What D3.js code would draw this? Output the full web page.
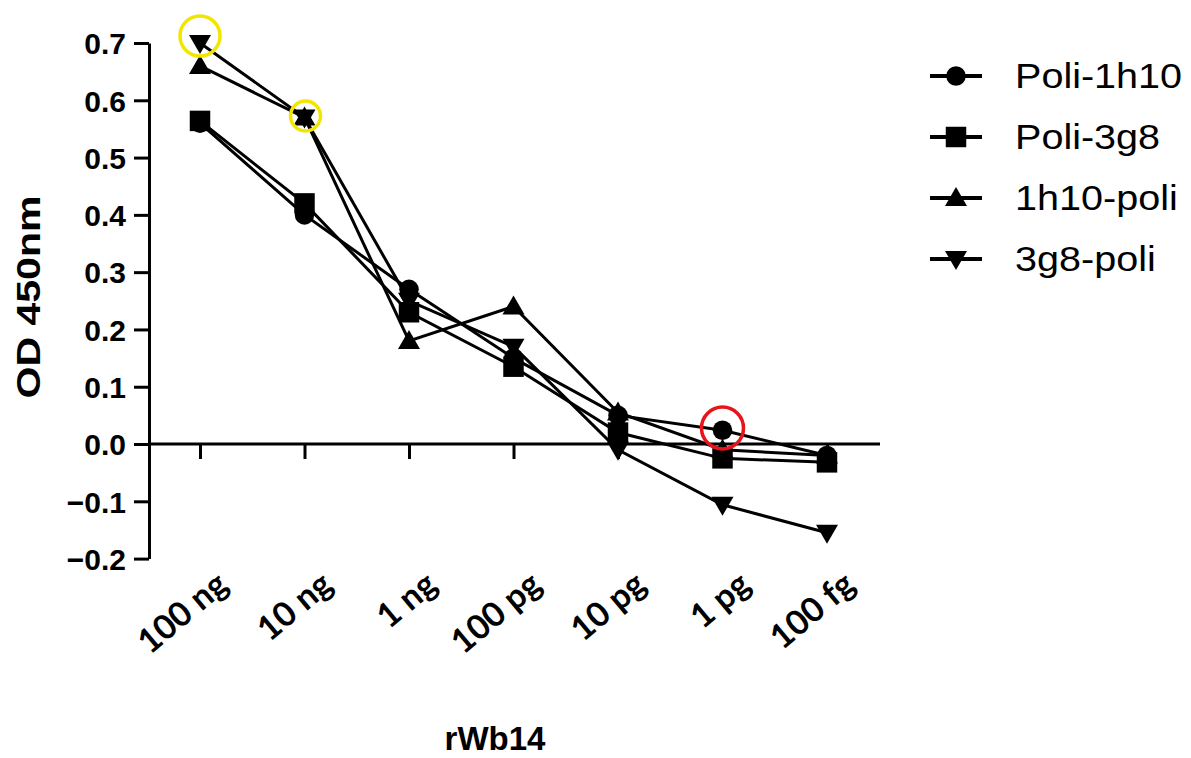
<!DOCTYPE html>
<html><head><meta charset="utf-8">
<script src="https://cdn.jsdelivr.net/npm/d3@7"></script>
<style>body{margin:0;background:#fff}svg{display:block}</style>
</head><body>
<svg id="c" width="1191" height="758"></svg>
<script>
const categories = ["100 ng","10 ng","1 ng","100 pg","10 pg","1 pg","100 fg"];
const poli1h10 = [0.56, 0.40, 0.27, 0.15, 0.05, 0.024, -0.02];
const poli3g8  = [0.564, 0.42, 0.23, 0.135, 0.02, -0.025, -0.032];
const h10poli  = [0.66, 0.57, 0.18, 0.24, 0.055, -0.01, -0.02];
const g8poli   = [0.70, 0.57, 0.25, 0.17, -0.01, -0.106, -0.155];
const seriesNames = ["Poli-1h10","Poli-3g8","1h10-poli","3g8-poli"];
const yTicks = [-0.2,-0.1,0.0,0.1,0.2,0.3,0.4,0.5,0.6,0.7];

const series = [
  {name: seriesNames[0], values: poli1h10, sym: "circle"},
  {name: seriesNames[1], values: poli3g8, sym: "square"},
  {name: seriesNames[2], values: h10poli, sym: "tri"},
  {name: seriesNames[3], values: g8poli, sym: "itri"}
];

const svg = d3.select("#c");
const x = d3.scalePoint().domain(categories).range([200, 827]);
const y = d3.scaleLinear().domain([-0.2, 0.7]).range([558.6, 43]);
const axisX = 149;

function symPath(sym){
  if(sym==="circle") return d3.symbol(d3.symbolCircle, 300)();
  if(sym==="square") return d3.symbol(d3.symbolSquare, 420)();
  if(sym==="tri") return "M0,-11L11,8L-11,8Z";
  return "M0,11L11,-8L-11,-8Z";
}

// Y axis
const yAxis = d3.axisLeft(y).tickValues(yTicks).tickFormat(d3.format(".1f")).tickSize(15).tickSizeOuter(0);
const gy = svg.append("g").attr("transform",`translate(${axisX},0)`).call(yAxis);
gy.select(".domain").attr("stroke","#000").attr("stroke-width",3);
gy.selectAll(".tick line").attr("stroke","#000").attr("stroke-width",3);
gy.selectAll(".tick text").attr("font-family","Liberation Sans, Arial, sans-serif").attr("font-weight","bold").attr("font-size",30).attr("fill","#000").attr("x",-23).attr("dy","0.36em");

// X axis at zero
const xAxis = d3.axisBottom(x).tickSize(15).tickSizeOuter(0).tickFormat("");
const gx = svg.append("g").attr("transform",`translate(0,${y(0)})`).call(xAxis);
gx.select(".domain").attr("d",`M${axisX},0H880`).attr("stroke","#000").attr("stroke-width",3);
gx.selectAll(".tick line").attr("stroke","#000").attr("stroke-width",3);

// X tick labels (rotated)
svg.append("g").selectAll("text").data(categories).join("text")
  .attr("transform", d => `translate(${x(d)+30},${588}) rotate(-40)`)
  .attr("text-anchor","end")
  .attr("font-family","Lato, 'Open Sans', sans-serif")
  .attr("font-weight","bold")
  .attr("font-size",34)
  .attr("fill","#000")
  .text(d => d);

// Axis titles
svg.append("text").attr("transform","translate(40,297) rotate(-90)")
  .attr("text-anchor","middle").attr("font-family","Liberation Sans, Arial, sans-serif")
  .attr("font-weight","bold").attr("font-size",33).attr("fill","#000")
  .attr("textLength",203).attr("lengthAdjust","spacingAndGlyphs").text("OD 450nm");
svg.append("text").attr("x",495).attr("y",750)
  .attr("text-anchor","middle").attr("font-family","Liberation Sans, Arial, sans-serif")
  .attr("font-weight","bold").attr("font-size",33).attr("fill","#000").text("rWb14");

// Lines and markers
const line = d3.line().x((d,i)=>x(categories[i])).y(d=>y(d));
series.forEach(s=>{
  svg.append("path").attr("d", line(s.values)).attr("fill","none").attr("stroke","#000").attr("stroke-width",3);
});
series.forEach(s=>{
  svg.append("g").selectAll("path").data(s.values).join("path")
    .attr("d", symPath(s.sym))
    .attr("transform",(d,i)=>`translate(${x(categories[i])},${y(d)})`)
    .attr("fill","#000");
});

// Annotation circles
svg.append("circle").attr("cx",x("100 ng")).attr("cy",36).attr("r",20).attr("fill","none").attr("stroke","#f2e600").attr("stroke-width",3.5);
svg.append("circle").attr("cx",x("10 ng")+1).attr("cy",116).attr("r",15).attr("fill","none").attr("stroke","#f2e600").attr("stroke-width",3.5);
svg.append("circle").attr("cx",x("1 pg")).attr("cy",428).attr("r",21).attr("fill","none").attr("stroke","#e8141b").attr("stroke-width",3.5);

// Legend
const lg = svg.append("g");
series.forEach((s,i)=>{
  const yy = 76 + i*61;
  lg.append("line").attr("x1",930).attr("x2",982).attr("y1",yy).attr("y2",yy).attr("stroke","#000").attr("stroke-width",4);
  lg.append("path").attr("d",symPath(s.sym)).attr("transform",`translate(956,${yy})`).attr("fill","#000");
  lg.append("text").attr("x",1015).attr("y",yy+12)
    .attr("font-family","Liberation Sans, Arial, sans-serif").attr("font-size",35).attr("fill","#000").text(s.name);
});
lg.selectAll("text").each(function(){
  const w = this.getComputedTextLength();
  d3.select(this).attr("textLength", w*1.13).attr("lengthAdjust","spacingAndGlyphs");
});
</script>
</body></html>
